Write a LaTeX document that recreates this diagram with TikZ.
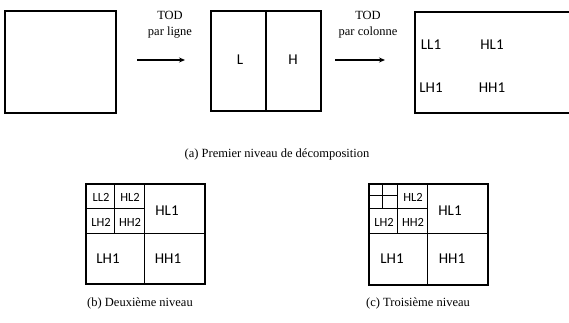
\documentclass[tikz,border=0pt]{standalone}
\usepackage{fontspec}
\setmainfont{Liberation Serif}
\newfontfamily\bandfont{Carlito}
\usetikzlibrary{arrows.meta}

\begin{document}
\begin{tikzpicture}[x=1pt, y=-1pt,
      frame/.style={draw, line width=1.8pt, rectangle, inner sep=0pt},
      cut/.style={line width=0.9pt},
      band/.style={font=\bandfont\fontsize{15}{15}\selectfont},
      subband/.style={font=\bandfont\fontsize{12.5}{12.5}\selectfont, inner sep=0pt},
      legend/.style={font=\fontsize{12.5}{16}\selectfont, align=center},
      >={Stealth[length=6pt, width=5pt]}]
    \useasboundingbox (0,0) rectangle (569,323);

    % premier niveau : image, TOD par ligne, TOD par colonne
    \node[frame, minimum width=111, minimum height=102] (img) at (60.5,62) {};
    \node[frame, minimum width=110, minimum height=100] (rows) at (266,61) {};
    \node[frame, minimum width=170, minimum height=101, anchor=north west] (cols) at (414,11) {};
    \draw[cut, line width=1.1pt] (rows.north) -- (rows.south);

    \coordinate (a1) at (137,60);
    \coordinate (b1) at (185,60);
    \coordinate (a2) at (335,60);
    \coordinate (b2) at (385,60);
    \draw[->, line width=1.3pt] (a1) -- (b1);
    \draw[->, line width=1.3pt] (a2) -- (b2);
    \node[legend] (t1) at (170,25) {TOD\\par ligne};
    \node[legend] (t2) at (368,25) {TOD\\par colonne};

    \node[band] (L) at (240,60) {L};
    \node[band] (H) at (293,60) {H};
    \foreach \lbl/\x/\y in {LL1/431/45, HL1/492/45, LH1/431/88, HH1/492/88}
      \node[band] (\lbl) at (\x,\y) {\lbl};

    \node[legend] (capa) at (277,154) {(a) Premier niveau de d\'ecomposition};

    % deuxieme niveau
    \node[frame, minimum width=119, minimum height=100, anchor=north west] (lvl2) at (85,183) {};
    \begin{scope}[shift={(85,183)}]
      \foreach \w/\h in {59.5/50, 29.75/25}
        \draw[cut] (\w,0) -- (\w,2*\h) (0,\h) -- (2*\w,\h);
    \end{scope}
    \foreach \lbl/\x/\y in {LL2/101/197, HL2/130/197, LH2/101/222, HH2/130/222}
      \node[subband] at (\x,\y) {\lbl};
    \foreach \lbl/\x/\y in {HL1/167/211, LH1/108/259, HH1/168/259}
      \node[band] at (\x,\y) {\lbl};
    \node[legend] (capb) at (140,303) {(b) Deuxi\`eme niveau};

    % troisieme niveau
    \node[frame, minimum width=119, minimum height=101, anchor=north west] (lvl3) at (368,183) {};
    \begin{scope}[shift={(368,183)}]
      \foreach \w/\h in {59.5/50.5, 29.75/25.25, 14.875/12.6}
        \draw[cut] (\w,0) -- (\w,2*\h) (0,\h) -- (2*\w,\h);
    \end{scope}
    \foreach \lbl/\x/\y in {HL2/413/197, LH2/384/222, HH2/413/222}
      \node[subband] at (\x,\y) {\lbl};
    \foreach \lbl/\x/\y in {HL1/450/211, LH1/392/259, HH1/452/259}
      \node[band] at (\x,\y) {\lbl};
    \node[legend] (capc) at (418,303) {(c) Troisi\`eme niveau};
  \end{tikzpicture}
\end{document}
